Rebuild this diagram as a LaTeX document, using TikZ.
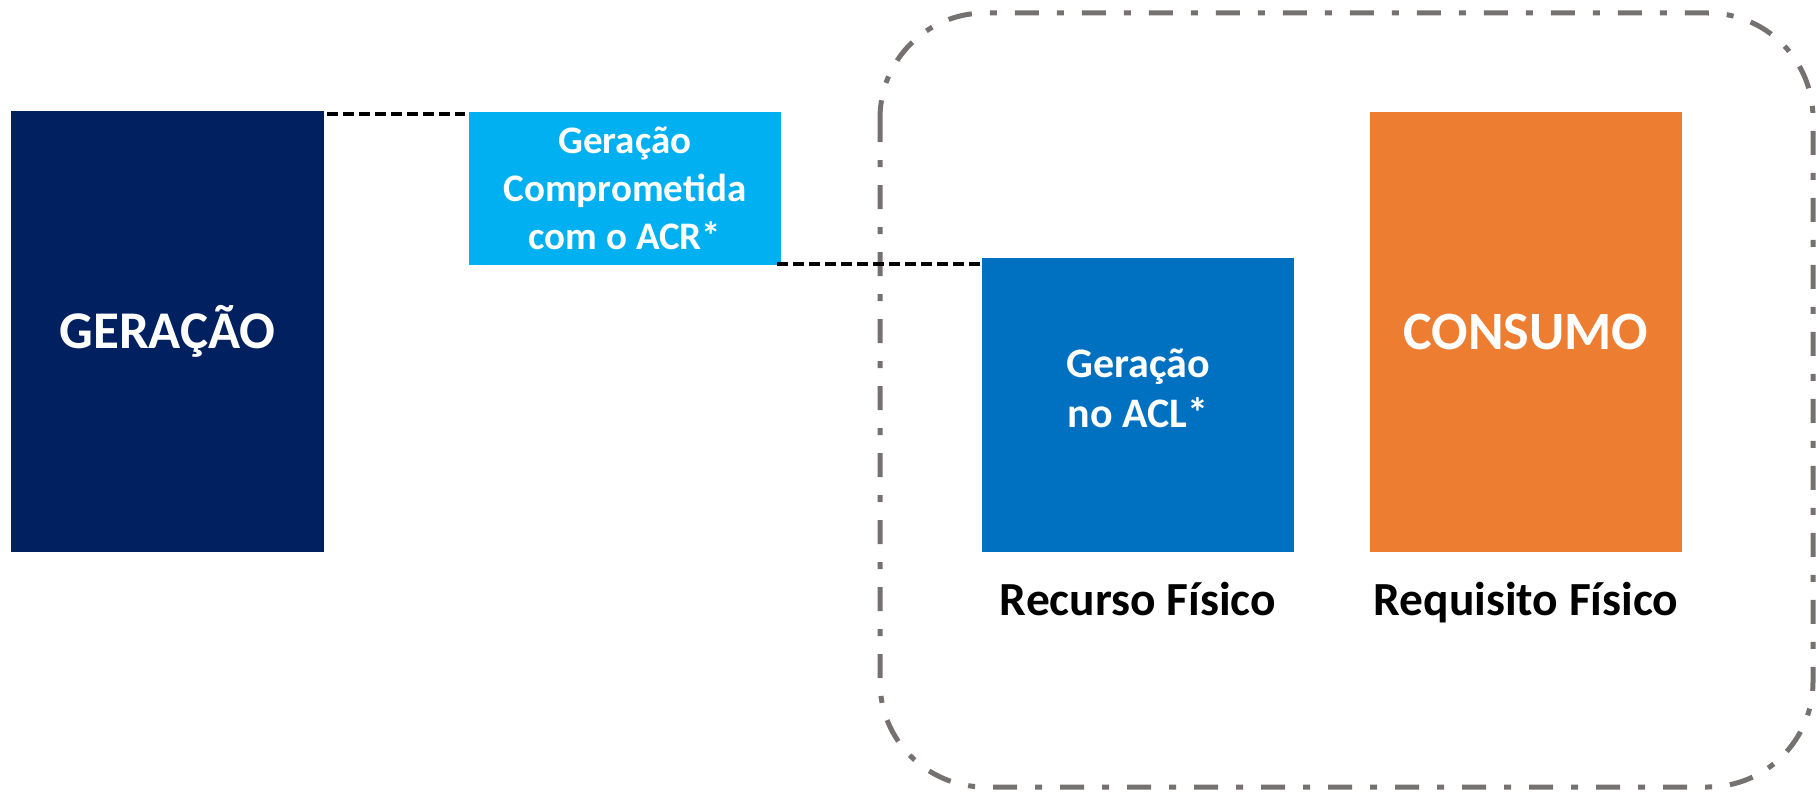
\documentclass[tikz,border=0pt]{standalone}
\usepackage{fontspec}
\setmainfont{Carlito}
\definecolor{navy}{RGB}{0,32,96}
\definecolor{cyanbox}{RGB}{0,176,240}
\definecolor{bluebox}{RGB}{0,112,192}
\definecolor{orangebox}{RGB}{237,125,49}
\definecolor{bordergray}{RGB}{118,113,113}
\tikzset{
  boxnode/.style={rectangle, inner sep=0pt, draw=none, text=white, align=center, font=\bfseries},
  blackdash/.style={line width=3.5pt, black, dash pattern=on 11pt off 5pt},
  grayframe/.style={line width=5pt, bordergray, dash pattern=on 24pt off 18pt on 7pt off 18pt, rounded corners=105pt},
  caption/.style={text=black, font=\bfseries\fontsize{47.5}{52}\selectfont, inner sep=0pt, anchor=base}
}
\begin{document}
\begin{tikzpicture}[x=1pt,y=-1pt]
\useasboundingbox (0,0) rectangle (1816,792);
\fill[white] (0,0) rectangle (1816,792);
\draw[grayframe] (880,13) rectangle (1813,787);
\node[boxnode, fill=navy, minimum width=313pt, minimum height=441pt, font=\bfseries\fontsize{53}{60}\selectfont] (ger) at (167.5,331.5) {GERAÇÃO};
\node[boxnode, fill=cyanbox, minimum width=312pt, minimum height=153pt, font=\bfseries\fontsize{39}{48}\selectfont] (comp) at (625,188.5) {Geração\\Comprometida\\com o ACR*};
\node[boxnode, fill=bluebox, minimum width=312pt, minimum height=294pt] (acl) at (1138,405) {};
\node[boxnode, font=\bfseries\fontsize{42}{50}\selectfont] (acltext) at (1138,388) {Geração\\no ACL*};
\node[boxnode, fill=orangebox, minimum width=312pt, minimum height=440pt, font=\bfseries\fontsize{54}{60}\selectfont] (cons) at (1526,332) {CONSUMO};
\node[caption] (rec) at (1138,615) {Recurso Físico};
\node[caption] (req) at (1526,615) {Requisito Físico};
\draw[blackdash] ([xshift=3pt,yshift=-3pt]ger.north east) -- ([xshift=-4pt,yshift=-2pt]comp.north west);
\draw[blackdash] ([xshift=-4pt,yshift=1.3pt]comp.south east) -- ([yshift=1.3pt]comp.south east -| acl.west);
\end{tikzpicture}
\end{document}
